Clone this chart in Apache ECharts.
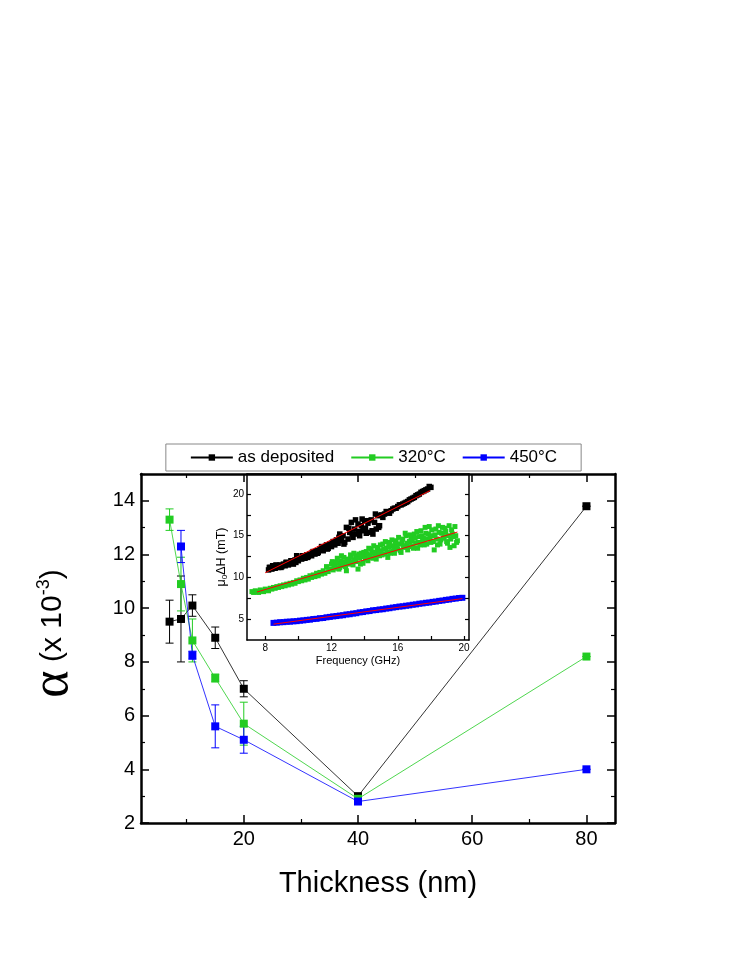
<!DOCTYPE html>
<html>
<head>
<meta charset="utf-8">
<title>Damping vs thickness</title>
<script src="https://cdn.jsdelivr.net/npm/echarts@6/dist/echarts.min.js"></script>
<style>
    html, body { margin: 0; padding: 0; background: #fff; }
    #main { width: 747px; height: 967px; }
</style>
</head>
<body>
<div id="main"></div>
<script>
    // main plot: damping alpha (x 10^-3) vs thickness (nm)
    var thickness = [7, 9, 11, 15, 20, 40, 80];
    var asDep     = [9.5, 9.6, 10.1, 8.9, 7.0, 3.0, 13.8];
    var asDepErr  = [0.8, 1.6, 0.4, 0.4, 0.3, 0.1, 0];
    var t320      = [13.3, 10.9, 8.8, 7.4, 5.7, 2.9, 8.2];
    var t320Err   = [0.4, 1.0, 0.8, 0.15, 0.8, 0.1, 0];
    var thick450  = [9, 11, 15, 20, 40, 80];
    var t450      = [12.3, 8.25, 5.6, 5.1, 2.8, 4.0];
    var t450Err   = [0.6, 0.15, 0.8, 0.5, 0.1, 0];

    var xMajor = [20, 40, 60, 80];
    var xMinor = [10, 30, 50, 70];
    var yMajor = [2, 4, 6, 8, 10, 12, 14];
    var yMinor = [3, 5, 7, 9, 11, 13, 15];

    // inset: linewidth mu0 dH (mT) vs frequency (GHz)
    var dhBlack = [
        [8.2,10.9],[8.25,11.2],[8.3,11.2],[8.4,11.0],[8.45,11.4],[8.5,11.3],[8.6,11.1],[8.65,11.5],
        [8.7,11.4],[8.8,11.2],[8.9,11.5],[8.95,11.2],[9.0,11.3],[9.1,11.6],[9.2,11.4],[9.25,11.8],
        [9.3,11.8],[9.4,11.5],[9.5,11.7],[9.55,12.0],[9.6,11.9],[9.7,11.6],[9.8,12.1],[9.85,11.8],
        [9.9,12.6],[10.0,12.0],[10.1,12.4],[10.2,12.2],[10.25,12.6],[10.3,12.5],[10.4,12.3],[10.5,12.7],
        [10.55,12.4],[10.6,12.5],[10.7,12.8],[10.8,12.6],[10.85,13.0],[10.9,13.1],[11.0,12.8],[11.1,13.2],
        [11.15,12.9],[11.2,13.0],[11.3,13.4],[11.4,13.7],[11.45,13.3],[11.5,13.2],[11.6,13.6],[11.7,13.9],
        [11.75,13.4],[11.8,13.5],[11.9,14.0],[12.0,13.7],[12.05,14.1],[12.1,14.3],[12.2,13.9],[12.3,14.5],
        [12.4,14.1],[12.45,14.8],[12.5,15.2],[12.6,14.4],[12.7,15.0],[12.75,14.0],[12.8,14.2],[12.9,16.0],
        [13.0,14.6],[13.05,15.9],[13.1,15.4],[13.2,16.6],[13.25,15.2],[13.3,14.8],[13.4,15.8],[13.45,16.9],
        [13.5,15.2],[13.6,16.4],[13.65,15.5],[13.7,15.0],[13.8,16.2],[13.85,17.0],[13.9,15.6],[14.0,16.8],
        [14.05,15.9],[14.1,15.3],[14.2,16.5],[14.25,16.8],[14.3,15.4],[14.4,16.9],[14.45,15.6],[14.5,15.2],
        [14.6,16.6],[14.65,17.6],[14.7,15.8],[14.8,17.4],[14.85,16.0],[14.9,16.2],[15.0,17.5],[15.1,17.2],
        [15.2,17.6],[15.3,17.9],[15.4,17.8],[15.5,17.7],[15.6,18.0],[15.7,18.2],[15.8,18.3],[15.9,18.3],
        [16.0,18.5],[16.1,18.7],[16.2,18.7],[16.3,18.8],[16.4,18.9],[16.5,19.0],[16.6,19.1],[16.7,19.3],
        [16.8,19.4],[16.9,19.5],[17.0,19.6],[17.1,19.8],[17.2,19.9],[17.3,20.0],[17.4,20.2],[17.5,20.3],
        [17.6,20.4],[17.7,20.5],[17.8,20.6],[17.9,20.9],[18.0,20.8]
    ];
    var dh320 = [
        [7.2,8.3],[7.3,8.2],[7.4,8.4],[7.5,8.3],[7.6,8.2],[7.7,8.5],[7.8,8.4],[7.9,8.3],[8.0,8.6],
        [8.1,8.5],[8.2,8.4],[8.3,8.7],[8.4,8.6],[8.5,8.8],[8.6,8.7],[8.7,8.9],[8.8,8.8],[8.9,9.0],
        [9.0,8.9],[9.1,9.1],[9.2,9.0],[9.3,9.2],[9.4,9.1],[9.5,9.3],[9.6,9.2],[9.7,9.4],[9.8,9.3],
        [9.9,9.6],[10.0,9.5],[10.1,9.7],[10.2,9.6],[10.3,9.9],[10.4,9.7],[10.5,10.0],[10.6,9.8],
        [10.7,10.2],[10.8,10.0],[10.9,10.3],[11.0,10.1],[11.1,10.5],[11.2,10.2],[11.3,10.6],[11.4,10.4],
        [11.5,10.8],[11.6,10.5],[11.7,11.3],[11.8,10.7],[11.9,11.0],[12.0,11.6],[12.1,10.9],[12.2,11.4],
        [12.3,11.1],[12.4,11.7],[12.5,11.2],[12.6,12.6],[12.7,11.4],[12.8,11.8],[12.9,10.8],[13.0,12.2],
        [13.1,11.6],[13.2,12.4],[13.3,11.5],[13.4,12.1],[13.5,12.6],[13.6,11.0],[13.7,12.3],[13.8,12.9],
        [13.9,11.7],[14.0,12.5],[14.1,13.1],[14.2,12.0],[14.3,12.7],[14.4,13.4],[14.5,12.3],[14.6,13.0],
        [14.7,12.2],[14.8,13.6],[14.9,12.6],[15.0,13.2],[15.1,14.0],[15.2,12.8],[15.3,13.5],[15.4,12.4],
        [15.5,14.2],[15.6,13.1],[15.7,13.8],[15.8,12.9],[15.9,14.4],[16.0,13.4],[16.1,14.0],[16.2,13.0],
        [16.3,14.6],[16.4,13.6],[16.5,15.0],[16.6,13.3],[16.7,14.3],[16.8,14.8],[16.9,13.8],[17.0,15.2],
        [17.1,14.1],[17.2,13.5],[17.3,14.9],[17.4,15.6],[17.5,14.4],[17.6,13.9],[17.7,15.3],[17.8,14.6],
        [17.9,16.1],[18.0,14.2],[18.1,15.0],[18.2,13.3],[18.3,15.8],[18.4,13.9],[18.5,15.4],[18.6,14.5],
        [18.7,16.0],[18.8,14.9],[18.9,15.5],[19.0,14.1],[19.1,16.2],[19.2,14.6],[19.3,15.2],[19.4,13.8],
        [19.5,15.0],[19.6,14.4],
        [12.05,11.9],[12.15,11.2],[12.25,11.8],[12.35,12.3],[12.45,11.0],[12.55,12.0],[12.65,11.6],
        [12.75,12.4],[12.85,11.3],[12.95,12.1],[13.05,11.9],[13.15,12.7],[13.25,11.8],[13.35,12.9],
        [13.45,11.9],[13.55,12.4],[13.65,12.8],[13.75,11.6],[13.85,12.5],[13.95,13.0],[14.05,12.2],
        [14.15,12.8],[14.25,13.5],[14.35,12.4],[14.45,13.0],[14.55,13.8],[14.65,12.6],[14.75,13.3],
        [14.85,12.9],[14.95,13.9],[15.05,12.7],[15.15,13.4],[15.25,14.3],[15.35,13.0],[15.45,13.7],
        [15.55,12.9],[15.65,14.5],[15.75,13.3],[15.85,14.0],[15.95,13.6],[16.05,14.8],[16.15,13.2],
        [16.25,14.2],[16.35,13.8],[16.45,15.3],[16.55,14.1],[16.65,13.7],[16.75,15.1],[16.85,14.4],
        [16.95,13.5],[17.05,14.7],[17.15,15.5],[17.25,14.2],[17.35,13.9],[17.45,15.0],[17.55,14.7],
        [17.65,16.0],[17.75,14.0],[17.85,15.2],[17.95,14.8],[18.05,15.7],[18.15,14.3],[18.25,15.1],
        [18.35,14.6],[18.45,16.2],[18.55,14.0],[18.65,15.3],[18.75,14.7],[18.85,15.9],[18.95,14.3],
        [19.05,15.0],[19.15,13.6],[19.25,15.7],[19.35,14.9],[19.45,16.1],[19.55,14.2]
    ];
    var dh450 = [
        [8.5,4.55],[8.7,4.58],[8.9,4.63],[9.1,4.64],[9.3,4.69],[9.5,4.70],[9.7,4.74],[9.9,4.76],
        [10.1,4.82],[10.3,4.85],[10.5,4.91],[10.7,4.94],[10.9,5.01],[11.1,5.04],[11.3,5.11],[11.5,5.14],
        [11.7,5.22],[11.9,5.27],[12.1,5.33],[12.3,5.37],[12.5,5.43],[12.7,5.47],[12.9,5.56],[13.1,5.59],
        [13.3,5.67],[13.5,5.71],[13.7,5.81],[13.9,5.85],[14.1,5.93],[14.3,5.97],[14.5,6.06],[14.7,6.09],
        [14.9,6.16],[15.1,6.19],[15.3,6.27],[15.5,6.31],[15.7,6.39],[15.9,6.44],[16.1,6.51],[16.3,6.54],
        [16.5,6.61],[16.7,6.65],[16.9,6.73],[17.1,6.77],[17.3,6.85],[17.5,6.89],[17.7,6.96],[17.9,6.99],
        [18.1,7.07],[18.3,7.11],[18.5,7.19],[18.7,7.23],[18.9,7.31],[19.1,7.35],[19.3,7.43],[19.5,7.47],
        [19.7,7.53],[19.9,7.56]
    ];
    var fitBlack = [[8.0, 10.56], [17.94, 20.4]];
    var fit320   = [[7.5, 8.25], [19.6, 15.44]];
    var fit450   = [[8.5, 4.4], [19.9, 7.46]];

    var fXTicks  = [8, 10, 12, 14, 16, 18, 20];
    var fXLabels = [8, 12, 16, 20];
    var fYTicks  = [5, 7.5, 10, 12.5, 15, 17.5, 20];
    var fYLabels = [5, 10, 15, 20];

    var FONT = 'Liberation Sans, Arial, sans-serif';
    var cBlack = '#000000', cGreen = '#22cc22', cBlue = '#0000ff';

    function pairs(xs, ys) {
        return xs.map(function (x, i) { return [x, ys[i]]; });
    }
    function errData(xs, ys, es) {
        return xs.map(function (x, i) { return [x, ys[i] - es[i], ys[i] + es[i]]; });
    }
    function errRender(params, api) {
        var x = api.value(0);
        var p1 = api.coord([x, api.value(1)]);
        var p2 = api.coord([x, api.value(2)]);
        var c = api.visual('color');
        var w = 4;
        var st = { stroke: c, lineWidth: 1 };
        return {
            type: 'group',
            children: [
                { type: 'line', shape: { x1: p1[0], y1: p1[1], x2: p2[0], y2: p2[1] }, style: st },
                { type: 'line', shape: { x1: p1[0] - w, y1: p1[1], x2: p1[0] + w, y2: p1[1] }, style: st },
                { type: 'line', shape: { x1: p2[0] - w, y1: p2[1], x2: p2[0] + w, y2: p2[1] }, style: st }
            ]
        };
    }

    // one axis = one side of a frame; ticks point inward
    function axis(grid, pos, min, max, ticks, len, labels, lineW, fontSize) {
        return {
            type: 'value', gridIndex: grid, position: pos, min: min, max: max,
            axisLine: { show: lineW > 0, onZero: false, lineStyle: { color: '#000', width: lineW } },
            axisTick: { show: ticks.length > 0, inside: true, length: len, customValues: ticks,
                        lineStyle: { color: '#000', width: len > 5 ? 1.5 : 1.2 } },
            axisLabel: { show: labels.length > 0, customValues: labels, color: '#000',
                         fontFamily: FONT, fontSize: fontSize || 20, margin: fontSize ? 3 : 6 },
            splitLine: { show: false }
        };
    }

    var xAxes = [
        axis(0, 'bottom', 2, 85, xMajor, 8, xMajor, 2.5),
        axis(0, 'bottom', 2, 85, xMinor, 4, [], 0),
        axis(0, 'top', 2, 85, xMajor, 8, [], 2.5),
        axis(0, 'top', 2, 85, xMinor, 4, [], 0),
        axis(1, 'bottom', 6.9, 20.3, fXTicks, 4, fXLabels, 1.5, 10),
        axis(1, 'top', 6.9, 20.3, [], 0, [], 1.5)
    ];
    xAxes[0].name = 'Thickness (nm)';
    xAxes[0].nameLocation = 'middle';
    xAxes[0].nameGap = 46;
    xAxes[0].nameTextStyle = { fontFamily: FONT, fontSize: 29, color: '#000' };
    xAxes[4].name = 'Frequency (GHz)';
    xAxes[4].nameLocation = 'middle';
    xAxes[4].nameGap = 15;
    xAxes[4].nameTextStyle = { fontFamily: FONT, fontSize: 11, color: '#000' };

    var yAxes = [
        axis(0, 'left', 2, 15, yMajor, 8, yMajor, 2.5),
        axis(0, 'left', 2, 15, yMinor, 4, [], 0),
        axis(0, 'right', 2, 15, yMajor, 8, [], 2.5),
        axis(0, 'right', 2, 15, yMinor, 4, [], 0),
        axis(1, 'left', 2.5, 22.4, fYTicks, 4, fYLabels, 1.5, 10),
        axis(1, 'right', 2.5, 22.4, fYTicks, 4, [], 1.5)
    ];
    yAxes[0].name = '{a|α}{b| (x 10}{c|-3}{b|)}';
    yAxes[0].nameLocation = 'middle';
    yAxes[0].nameRotate = 90;
    yAxes[0].nameGap = 62;
    yAxes[0].nameTextStyle = {
        color: '#000',
        padding: [0, 0, 0, 30],
        rich: {
            a: { fontFamily: 'Liberation Serif, serif', fontSize: 52, color: '#000' },
            b: { fontFamily: FONT, fontSize: 30, color: '#000' },
            c: { fontFamily: FONT, fontSize: 18, color: '#000', padding: [0, 0, 17, 0] }
        }
    };
    yAxes[4].name = '{a|μ}{s|0}{a|ΔH (mT)}';
    yAxes[4].nameLocation = 'middle';
    yAxes[4].nameRotate = 90;
    yAxes[4].nameGap = 18;
    yAxes[4].nameTextStyle = {
        color: '#000',
        rich: {
            a: { fontFamily: FONT, fontSize: 12.5, color: '#000' },
            s: { fontFamily: FONT, fontSize: 8, color: '#000', padding: [7, 0, 0, 0] }
        }
    };

    function mainLine(name, xs, ys, color) {
        return {
            name: name, type: 'line', xAxisIndex: 0, yAxisIndex: 0,
            data: pairs(xs, ys), symbol: 'rect', symbolSize: 8,
            itemStyle: { color: color }, lineStyle: { color: color, width: 0.8 },
            z: 3
        };
    }
    function errBars(name, xs, ys, es, color) {
        return {
            name: name + ' err', type: 'custom', xAxisIndex: 0, yAxisIndex: 0,
            data: errData(xs, ys, es), renderItem: errRender,
            encode: { x: 0, y: [1, 2] }, itemStyle: { color: color }, z: 2
        };
    }
    function insetPts(data, color, size) {
        return {
            type: 'scatter', xAxisIndex: 4, yAxisIndex: 4, data: data,
            symbol: 'rect', symbolSize: size, itemStyle: { color: color, opacity: 1 }, z: 3
        };
    }
    function fitLine(data) {
        return {
            type: 'line', xAxisIndex: 4, yAxisIndex: 4, data: data, symbol: 'none',
            lineStyle: { color: '#ff0000', width: 1 }, z: 4
        };
    }

    var option = {
        animation: false,
        backgroundColor: '#fff',
        textStyle: { fontFamily: FONT },
        legend: {
            data: ['as deposited', '320°C', '450°C'],
            left: 'center', top: 444,
            padding: [5, 24, 5, 24], borderColor: '#888', borderWidth: 1,
            itemWidth: 42, itemHeight: 8, itemGap: 16,
            textStyle: { fontFamily: FONT, fontSize: 17, color: '#000' }
        },
        grid: [
            { left: 141, top: 474, width: 474, height: 349 },
            { left: 247, top: 474, width: 222, height: 166, show: true, backgroundColor: '#fff', borderWidth: 0 }
        ],
        xAxis: xAxes,
        yAxis: yAxes,
        series: [
            errBars('as deposited', thickness, asDep, asDepErr, cBlack),
            mainLine('as deposited', thickness, asDep, cBlack),
            errBars('320°C', thickness, t320, t320Err, cGreen),
            mainLine('320°C', thickness, t320, cGreen),
            errBars('450°C', thick450, t450, t450Err, cBlue),
            mainLine('450°C', thick450, t450, cBlue),
            insetPts(dhBlack, cBlack, 5.5),
            insetPts(dh320, cGreen, 5),
            insetPts(dh450, cBlue, 6),
            fitLine(fitBlack),
            fitLine(fit320),
            fitLine(fit450)
        ]
    };

    var chart = echarts.init(document.getElementById('main'));
    chart.setOption(option);
</script>
</body>
</html>
